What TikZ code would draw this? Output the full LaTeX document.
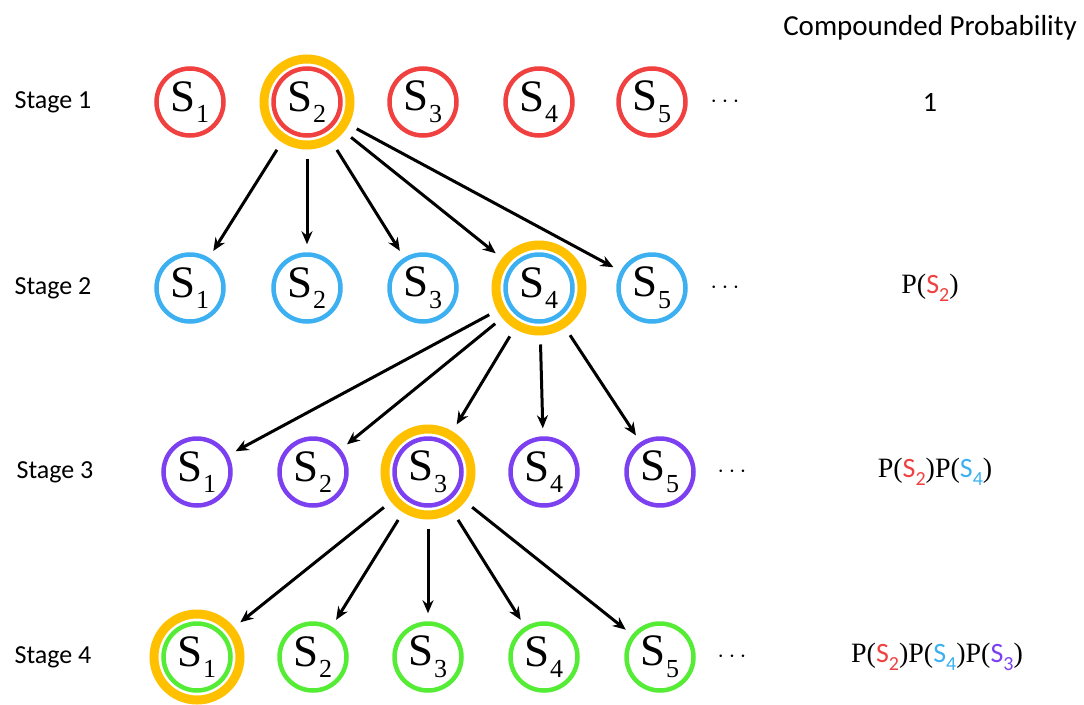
\documentclass[tikz,border=0pt]{standalone}
\usepackage{fontspec}
\setmainfont{Carlito}
\newfontfamily\symfont{Liberation Serif}
\usetikzlibrary{arrows.meta}
\definecolor{sred}{RGB}{240,64,64}
\definecolor{sblue}{RGB}{60,176,240}
\definecolor{spurple}{RGB}{124,64,240}
\definecolor{sgreen}{RGB}{84,236,52}
\definecolor{sgold}{RGB}{255,192,0}
% state label: large serif S with a lowered index
\newcommand{\stS}[1]{{\symfont\fontsize{45}{45}\selectfont S\raisebox{-0.26em}{\fontsize{26}{26}\selectfont #1}}}
% coloured state inside a probability term
\newcommand{\pS}[2]{\textcolor{#1}{S\raisebox{-0.3em}{\fontsize{20}{20}\selectfont #2}}}
\tikzset{
  st/.style={circle, draw=#1, line width=4.5pt, minimum size=67pt, inner sep=0pt},
  halo/.style={circle, draw=sgold, line width=9pt, minimum size=86pt, inner sep=0pt},
  arr/.style={-{Stealth[length=13pt,width=11pt]}, line width=3pt, shorten <=9pt, shorten >=8pt},
  lbl/.style={font=\fontsize{26}{26}\selectfont},
  prob/.style={font=\fontsize{28}{28}\selectfont},
  ttl/.style={font=\fontsize{29}{29}\selectfont},
  dots/.style={font=\fontsize{26}{26}\selectfont}
}
\begin{document}
\begin{tikzpicture}[x=1pt,y=-1pt]
\useasboundingbox (0,0) rectangle (1084,704);
\node[ttl] (title) at (930,28) {Compounded Probability};
% stage 1
\node[lbl] (l1) at (53,102) {Stage 1};
\node[st=sred] (a1) at (190,102) {\stS{1}};
\node[st=sred] (a2) at (307,102) {\stS{2}};
\node[st=sred] (a3) at (423,102) {\stS{3}};
\node[st=sred] (a4) at (539,102) {\stS{4}};
\node[st=sred] (a5) at (652,102) {\stS{5}};
\node[halo] (ha) at (a2) {};
\node[dots] (da) at (725,102) {$\cdots$};
\node[prob] (pa) at (930,102) {1};
% stage 2
\node[lbl] (l2) at (53,288) {Stage 2};
\node[st=sblue] (b1) at (190,288) {\stS{1}};
\node[st=sblue] (b2) at (307,288) {\stS{2}};
\node[st=sblue] (b3) at (423,288) {\stS{3}};
\node[st=sblue] (b4) at (539,288) {\stS{4}};
\node[st=sblue] (b5) at (652,288) {\stS{5}};
\node[halo] (hb) at (b4) {};
\node[dots] (db) at (725,288) {$\cdots$};
\node[prob] (pb) at (930,288) {{\symfont P(}\pS{sred}{2}{\symfont )}};
% stage 3
\node[lbl] (l3) at (55,472) {Stage 3};
\node[st=spurple] (c1) at (197,472) {\stS{1}};
\node[st=spurple] (c2) at (313,472) {\stS{2}};
\node[st=spurple] (c3) at (428,472) {\stS{3}};
\node[st=spurple] (c4) at (544,472) {\stS{4}};
\node[st=spurple] (c5) at (660,472) {\stS{5}};
\node[halo] (hc) at (c3) {};
\node[dots] (dc) at (732,472) {$\cdots$};
\node[prob] (pc) at (935,472) {{\symfont P(}\pS{sred}{2}{\symfont )P(}\pS{sblue}{4}{\symfont )}};
% stage 4
\node[lbl] (l4) at (53,657) {Stage 4};
\node[st=sgreen] (d1) at (197,657) {\stS{1}};
\node[st=sgreen] (d2) at (313,657) {\stS{2}};
\node[st=sgreen] (d3) at (428,657) {\stS{3}};
\node[st=sgreen] (d4) at (544,657) {\stS{4}};
\node[st=sgreen] (d5) at (660,657) {\stS{5}};
\node[halo] (hd) at (d1) {};
\node[dots] (dd) at (732,657) {$\cdots$};
\node[prob] (pd) at (937,657) {{\symfont P(}\pS{sred}{2}{\symfont )P(}\pS{sblue}{4}{\symfont )P(}\pS{spurple}{3}{\symfont )}};
% transitions
\foreach \t in {b1,b2,b3,hb,b5} \draw[arr] (ha) -- (\t);
\foreach \t in {c1,c2,hc,c4,c5} \draw[arr] (hb) -- (\t);
\foreach \t in {hd,d2,d3,d4,d5} \draw[arr] (hc) -- (\t);
\end{tikzpicture}
\end{document}
